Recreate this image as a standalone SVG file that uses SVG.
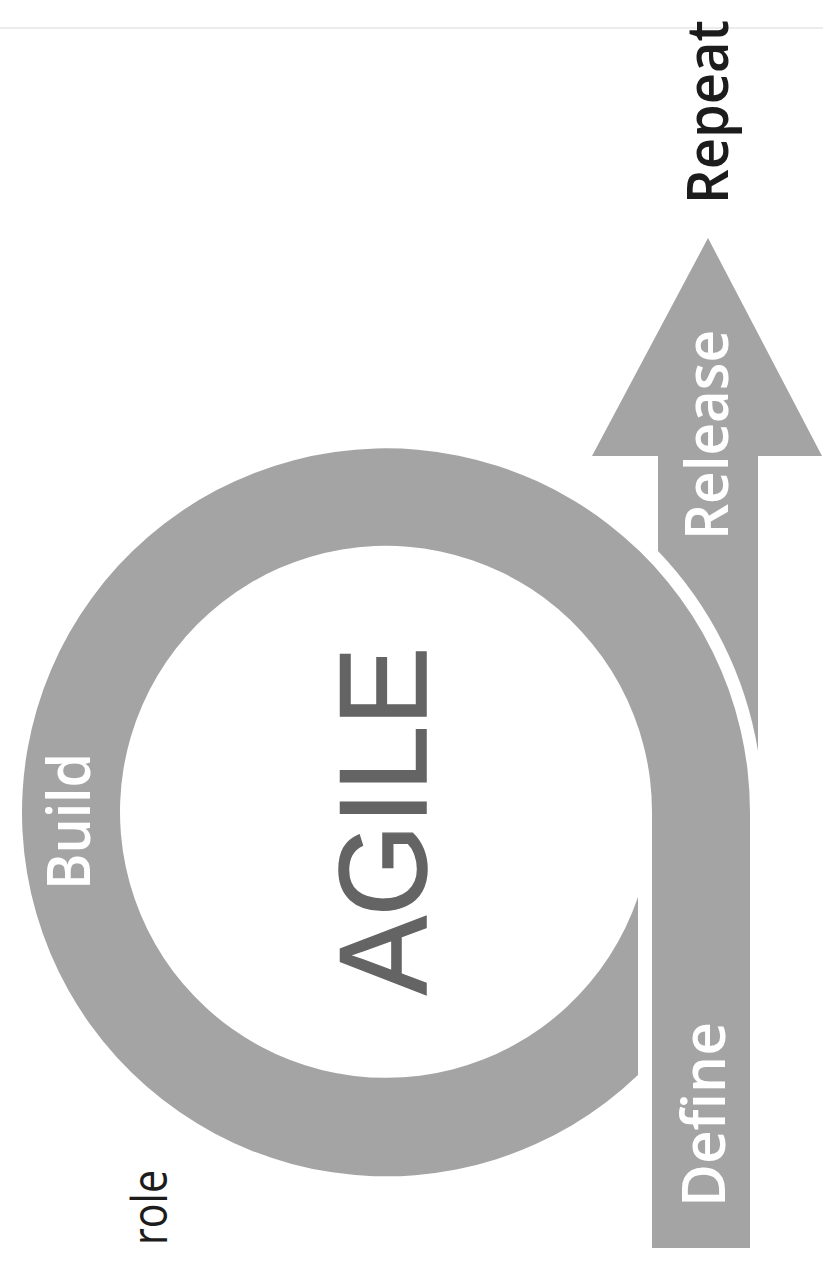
<svg xmlns="http://www.w3.org/2000/svg" width="823" height="1262" viewBox="0 0 823 1262">
<style>
.shape{fill:#a4a4a4}
.lbl{font-family:"Open Sans","Liberation Sans",sans-serif;font-size:60px;font-weight:600;fill:#ffffff}
.agile{font-family:"Liberation Sans","Open Sans",sans-serif;font-size:124px;fill:#646464;stroke:#646464;stroke-width:1.5}
.dark{font-family:"Open Sans","Liberation Sans",sans-serif;fill:#1c1c1c}
</style>
<rect width="823" height="1262" fill="#ffffff"/>
<line x1="0" y1="28" x2="823" y2="28" stroke="#ececec" stroke-width="2"/>
<g id="ring">
<path class="shape" d="M652,1248 L652,812 A266,266 0 1 0 638,897 L638,1075 A364,364 0 1 1 750,812 L750,1248 Z"/>
<text class="lbl" transform="translate(90,890) rotate(-90)" textLength="137" lengthAdjust="spacingAndGlyphs">Build</text>
<text class="lbl" transform="translate(725,1207) rotate(-90)" textLength="185" lengthAdjust="spacingAndGlyphs">Define</text>
</g>
<g id="arrow">
<path class="shape" d="M708,238 L822,456 L758,456 L758,751 A377,377 0 0 0 658,551 L658,456 L592,456 Z"/>
<text class="lbl" transform="translate(728,540) rotate(-90)" textLength="210" lengthAdjust="spacingAndGlyphs">Release</text>
</g>
<g id="center">
<text class="agile" transform="translate(426,995) rotate(-90)" textLength="348" lengthAdjust="spacingAndGlyphs">AGILE</text>
</g>
<g id="repeat">
<text class="dark" font-size="58" font-weight="600" transform="translate(728,204) rotate(-90)" textLength="184" lengthAdjust="spacingAndGlyphs">Repeat</text>
</g>
<g id="note">
<text class="dark" font-size="50" transform="translate(167,1245) rotate(-90)" textLength="75" lengthAdjust="spacingAndGlyphs">role</text>
</g>
<g id="connectors"/>
</svg>
